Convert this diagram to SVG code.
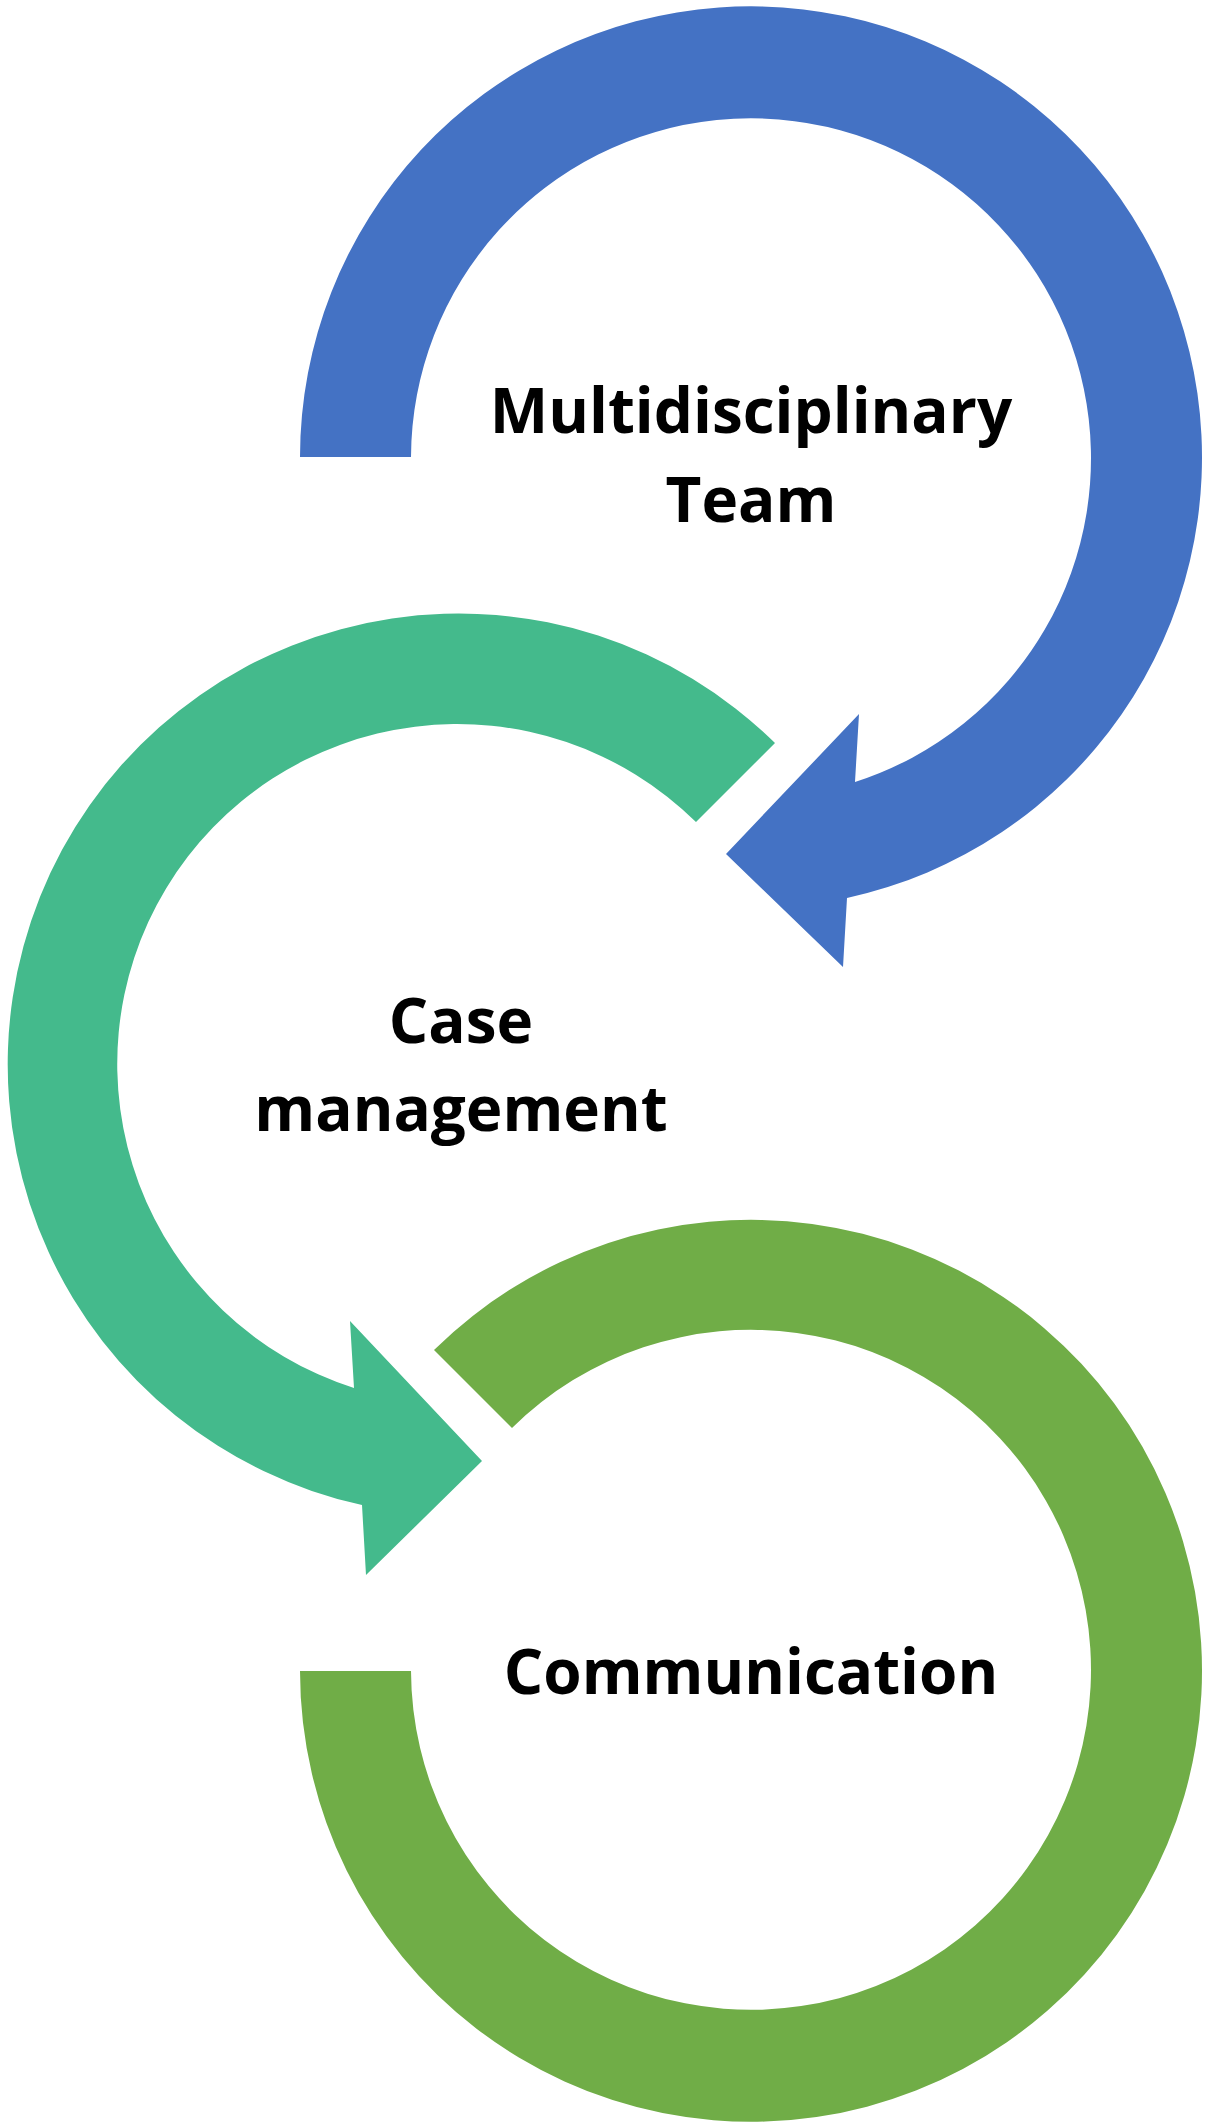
<svg xmlns="http://www.w3.org/2000/svg" width="1210" height="2122" viewBox="0 0 1210 2122">
<style>text{font-family:"Open Sans","Noto Sans","DejaVu Sans",sans-serif;font-weight:bold;font-size:62px;fill:#000;text-anchor:middle}</style>
<rect width="1210" height="2122" fill="#fff"/>
<g id="connectors">
<path id="blue" fill="#4472C4" d="M300 457 A451 451 0 1 1 847 898 L843 967 L726 854 L859 714 L855 782 A340 340 0 1 0 411 457 Z"/>
<path id="teal" fill="#44BA8C" d="M775 743 A451 451 0 1 0 362 1505 L366 1575 L482 1461 L350 1321 L354 1388 A340 340 0 1 1 696 822 Z"/>
<path id="green" fill="#70AD47" d="M434 1350 A451 451 0 1 1 300 1671 L411 1671 A340 340 0 1 0 512 1428 Z"/>
</g>
<g id="n1"><text x="751" y="433">Multidisciplinary</text><text x="751" y="522">Team</text></g>
<g id="n2"><text x="461" y="1043">Case</text><text x="461" y="1131">management</text></g>
<g id="n3"><text x="751" y="1694">Communication</text></g>
</svg>
